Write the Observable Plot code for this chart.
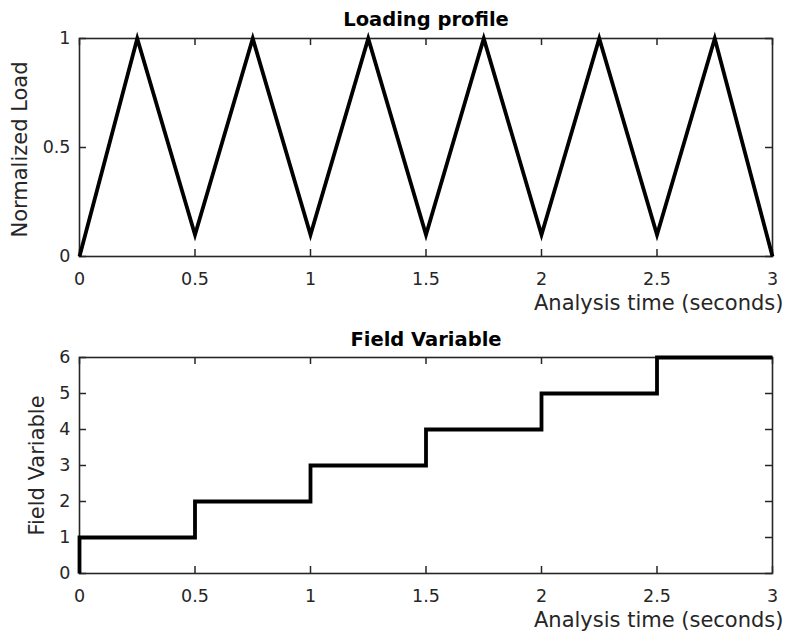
<!DOCTYPE html>
<html>
<head>
<meta charset="utf-8">
<script src="https://cdn.jsdelivr.net/npm/d3@7"></script>
<script src="https://cdn.jsdelivr.net/npm/@observablehq/plot@0.6"></script>
<style>
  html, body { margin: 0; padding: 0; background: #fff; }
  #chart svg { display: block; }
</style>
</head>
<body>
<div id="chart"></div>
<script>
// ---- data ----
const loadTime = [0, 0.25, 0.5, 0.75, 1, 1.25, 1.5, 1.75, 2, 2.25, 2.5, 2.75, 3];
const loadValue = [0, 1, 0.1, 1, 0.1, 1, 0.1, 1, 0.1, 1, 0.1, 1, 0];
const fieldTime = [0, 0, 0.5, 1, 1.5, 2, 2.5, 3];
const fieldValue = [0, 1, 2, 3, 4, 5, 6, 6];
const xTicks = [0, 0.5, 1, 1.5, 2, 2.5, 3];
const xTickLabels = ["0", "0.5", "1", "1.5", "2", "2.5", "3"];
const loadYTicks = [0, 0.5, 1];
const loadYTickLabels = ["0", "0.5", "1"];
const fieldYTicks = [0, 1, 2, 3, 4, 5, 6];
const fieldYTickLabels = ["0", "1", "2", "3", "4", "5", "6"];
const titles = ["Loading profile", "Field Variable"];
const yLabels = ["Normalized Load", "Field Variable"];
const xLabel = "Analysis time (seconds)";

const loadData = loadTime.map((t, i) => ({t, v: loadValue[i]}));
const fieldData = fieldTime.map((t, i) => ({t, v: fieldValue[i]}));

const INK = "#262626";
const FONT = "DejaVu Sans";
const W = 787;

function panel({data, curve, yDomain, yTicks, yTickLabels, title, yLabel, height, mt, mb, yLabelDx, yLabelDy, titleDy}) {
  const ml = 79, mr = 15;
  const innerW = W - ml - mr;
  const innerH = height - mt - mb;
  const tl = 7;
  return Plot.plot({
    width: W, height,
    marginLeft: ml, marginRight: mr, marginTop: mt, marginBottom: mb,
    style: {fontFamily: FONT, color: INK, background: "#fff", overflow: "visible"},
    x: {domain: [0, 3]},
    y: {domain: yDomain},
    marks: [
      Plot.axisX(xTicks, {anchor: "bottom", tickSize: 0, tickPadding: 16, fontSize: 17.5, fill: INK,
        tickFormat: (d, i) => xTickLabels[i], label: null}),
      Plot.axisY(yTicks, {anchor: "left", tickSize: 0, tickPadding: 9, fontSize: 17.5, fill: INK,
        tickFormat: (d, i) => yTickLabels[i], label: null}),
      Plot.tickX(xTicks, {x: d => d, stroke: INK, strokeWidth: 1.5, insetTop: innerH - tl}),
      Plot.tickX(xTicks, {x: d => d, stroke: INK, strokeWidth: 1.5, insetBottom: innerH - tl}),
      Plot.tickY(yTicks, {y: d => d, stroke: INK, strokeWidth: 1.5, insetRight: innerW - tl}),
      Plot.tickY(yTicks, {y: d => d, stroke: INK, strokeWidth: 1.5, insetLeft: innerW - tl}),
      Plot.frame({stroke: INK, strokeWidth: 1.6}),
      Plot.line(data, {x: "t", y: "v", curve, stroke: "#000", strokeWidth: 3.8,
        strokeLinejoin: "miter", strokeMiterlimit: 10, strokeLinecap: "butt"}),
      Plot.text([title], {frameAnchor: "top", text: d => d, lineAnchor: "bottom", dy: titleDy,
        fontWeight: "bold", fontSize: 19.5, fill: "#000"}),
      Plot.text([yLabel], {frameAnchor: "left", text: d => d, rotate: -90, dx: yLabelDx, dy: yLabelDy,
        lineAnchor: "middle", textAnchor: "middle", fontSize: 21, fill: INK}),
      Plot.text([xLabel], {frameAnchor: "bottom-right", text: d => d, dx: 11, dy: 53,
        textAnchor: "end", lineAnchor: "bottom", fontSize: 21, fill: INK})
    ]
  });
}

const topPanel = panel({data: loadData, curve: "linear", yDomain: [0, 1], yTicks: loadYTicks,
  yTickLabels: loadYTickLabels, title: titles[0], yLabel: yLabels[0],
  height: 320, mt: 38, mb: 64, yLabelDx: -59, yLabelDy: 2, titleDy: -13});
const bottomPanel = panel({data: fieldData, curve: "step-after", yDomain: [0, 6], yTicks: fieldYTicks,
  yTickLabels: fieldYTickLabels, title: titles[1], yLabel: yLabels[1],
  height: 319, mt: 37, mb: 66, yLabelDx: -42, yLabelDy: 0, titleDy: -12});

const host = document.getElementById("chart");
host.appendChild(topPanel);
host.appendChild(bottomPanel);
</script>
</body>
</html>
